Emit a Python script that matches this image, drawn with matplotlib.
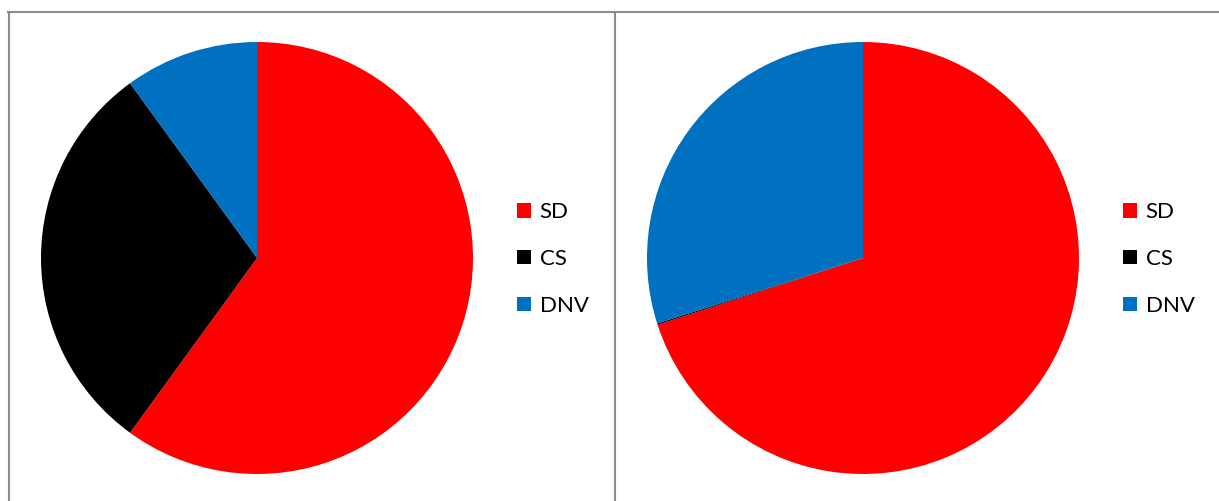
import matplotlib
matplotlib.use('Agg')
import matplotlib.pyplot as plt
from matplotlib.lines import Line2D

labels = ['SD', 'CS', 'DNV']
colors = ['#FF0000', '#000000', '#0070C0']
left_values = [60, 30, 10]
right_values = [70, 0.1, 29.9]

W, H = 1219, 501
fig = plt.figure(figsize=(W / 100, H / 100), dpi=100)
plt.rcParams['font.family'] = ['Lato', 'DejaVu Sans']


def px_axes(cx, cy, r):
    # axes box in pixels (cy measured from the top)
    return fig.add_axes([(cx - r) / W, (H - cy - r) / H, 2 * r / W, 2 * r / H])


def draw_pie(values, cx, cy, r, legend_x):
    ax = px_axes(cx, cy, r)
    wedges, _ = ax.pie(values, colors=colors, startangle=90, counterclock=False,
                       radius=1, wedgeprops=dict(linewidth=0))
    ax.set_xlim(-1, 1)
    ax.set_ylim(-1, 1)
    ax.set_aspect('equal')
    ax.axis('off')
    fig.legend(wedges, labels, loc='center left',
               bbox_to_anchor=(legend_x / W, (H - cy - 1) / H),
               frameon=False, fontsize=16, handlelength=0.62, handleheight=0.62,
               handletextpad=0.4, labelspacing=1.2, borderpad=0, borderaxespad=0)


draw_pie(left_values, 257, 258, 216, 517)
draw_pie(right_values, 863, 258, 216, 1123)

# chart frames
gray = '#8C8C8C'
fig.add_artist(Line2D([8 / W, 1], [1 - 12 / H, 1 - 12 / H], color=gray, lw=1.5))
fig.add_artist(Line2D([8.5 / W, 8.5 / W], [0, 1 - 12 / H], color=gray, lw=1.5))
fig.add_artist(Line2D([614.5 / W, 614.5 / W], [0, 1 - 12 / H], color=gray, lw=1.5))

fig.savefig('out.png', dpi=100)
